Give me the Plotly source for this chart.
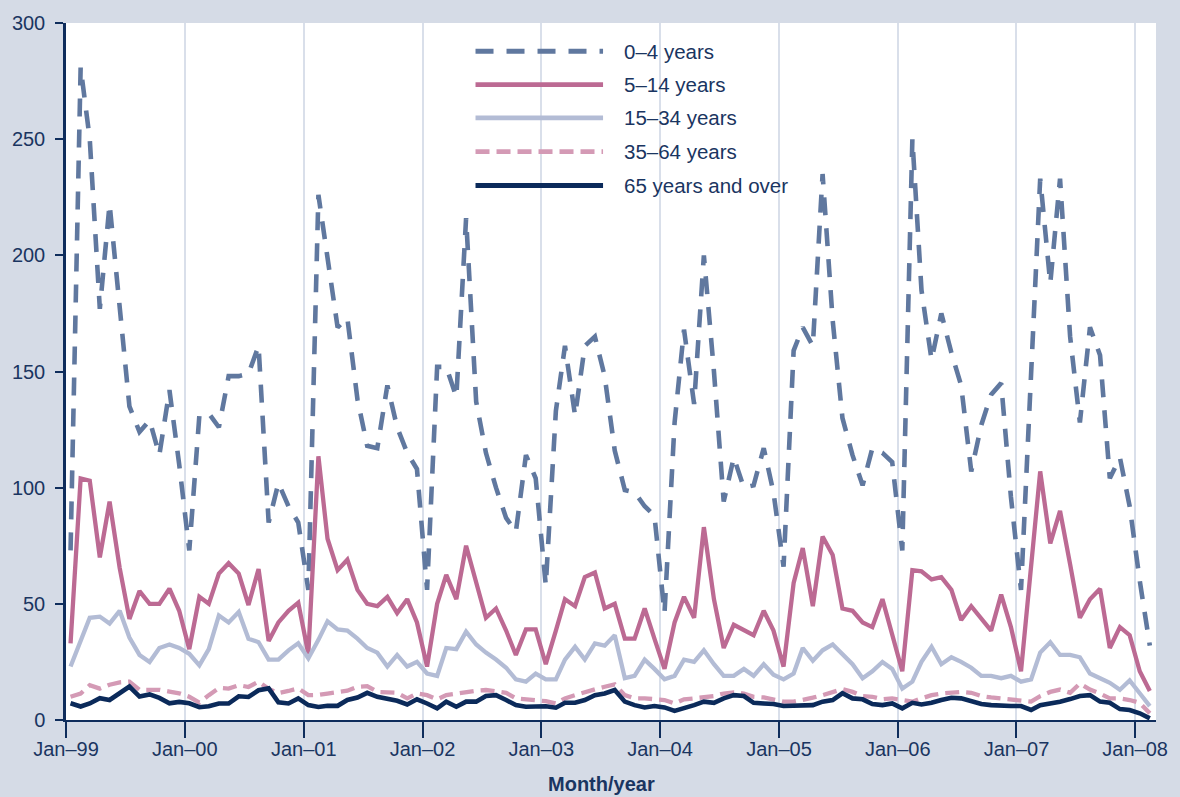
import plotly.graph_objects as go

# Monthly observations, January 1999 to February 2008 (one value per month)
month_dates = [f"{1999 + k // 12}-{k % 12 + 1:02d}-15" for k in range(110)]

age_0_4 = [
    73, 281, 250, 177, 222, 180, 135, 124, 129, 114, 142, 110,   # 1999
    73, 131, 132, 126, 148, 148, 149, 161, 85, 102, 92, 85,      # 2000
    56, 226, 198, 169, 173, 138, 118, 117, 144, 126, 115, 108,   # 2001
    56, 152, 152, 139, 216, 137, 115, 100, 87, 81, 114, 104,     # 2002
    58, 133, 161, 131, 161, 165, 148, 116, 99, 98, 92, 88,       # 2003
    46, 128, 168, 136, 200, 150, 94, 113, 100, 101, 117, 98,     # 2004
    66, 159, 169, 161, 235, 172, 130, 114, 101, 117, 115, 111,   # 2005
    73, 250, 185, 155, 175, 158, 144, 107, 127, 140, 145, 96,    # 2006
    56, 150, 233, 188, 233, 165, 128, 169, 157, 104, 113, 92,    # 2007
    60, 32,                                                      # 2008
]

age_5_14 = [
    33, 104, 103, 70, 94, 65.5, 43.5, 55.5, 50, 50, 56.5, 47,
    30.5, 53, 50, 63, 67.5, 63, 49.5, 65, 34, 42, 47, 50.5,
    28.5, 113.5, 78, 64.5, 69, 56, 50, 49, 53, 46, 52, 42,
    23, 50, 62.5, 52, 75, 60, 44, 48, 38.5, 28, 39, 39,
    24, 38.5, 52, 49, 61.5, 63.5, 48, 50, 35, 35, 48, 35,
    22, 42, 53, 44, 83, 52, 31, 41, 38.5, 36.5, 47, 38.5,
    23, 59, 74, 49, 79, 71, 48, 47, 42, 40, 52, 36.5,
    21, 64.5, 64, 60.5, 61.5, 56, 43, 49, 44, 38.5, 54, 40,
    21, 64, 107, 76, 90, 67, 44, 52, 56.5, 31, 40, 36.5,
    21, 12.5,
]

age_15_34 = [
    23, 33.5, 44, 44.5, 41.5, 47, 35.5, 28, 25, 31, 32.5, 31,
    28.5, 23.5, 30.5, 45, 42, 46.5, 35, 33.5, 26, 26, 30, 33,
    26.5, 34.5, 42.5, 39, 38.5, 35, 31, 29, 23, 28, 23, 25,
    20, 19, 31, 30.5, 38, 32.5, 29, 26, 22.5, 17.5, 16.5, 20,
    17.5, 17.5, 26, 31.5, 26, 33, 32, 36.5, 18, 19, 26, 22,
    17.5, 19, 26, 25, 30, 24, 19, 19, 22, 19, 24, 19.5,
    17.5, 20, 31, 25.5, 30, 32.5, 28, 24, 18, 21, 25, 22,
    13.5, 16.5, 25, 31.5, 24, 27, 25, 22.5, 19, 19, 18, 19,
    16.5, 17.5, 29, 33.5, 28, 28, 27, 20, 18, 16, 13, 17,
    11.5, 6,
]

age_35_64 = [
    10, 11.4, 15, 13.5, 15.2, 16.2, 16.5, 13, 13, 13, 12.2, 11.5,
    10, 7.5, 10.7, 13.8, 13.5, 15, 14.2, 16.5, 13.4, 11.6, 12.5, 13.6,
    10.7, 10.8, 11.4, 11.8, 12.6, 14.3, 14.6, 12.1, 12.1, 11.7, 9.3, 11.4,
    10.7, 8.9, 10.7, 11.4, 11.7, 12.6, 12.9, 12.1, 11.7, 9.3, 8.9, 8.6,
    8.1, 7.1, 9.3, 10.7, 12.1, 13.2, 14.3, 15.3, 10.7, 9.3, 9.3, 8.9,
    8.6, 7.1, 8.9, 9.3, 9.7, 10.3, 11.4, 11.9, 11.4, 10, 9.7, 8.9,
    7.9, 7.9, 8.6, 9.6, 10.7, 12.1, 13.3, 12.1, 10.3, 10, 8.9, 9.3,
    8.6, 7.9, 9.3, 10.7, 11.4, 11.7, 12.1, 11.7, 10.3, 9.7, 9.3, 8.9,
    8.3, 7.9, 10.3, 12.1, 13.1, 11.7, 15.7, 13.1, 11.4, 9.3, 9.3, 8.6,
    7.4, 2.9,
]

age_65_over = [
    7.2, 5.8, 7.1, 9.4, 8.6, 11.4, 14.4, 10.1, 11, 9.5, 7.2, 7.8,
    7.2, 5.5, 5.9, 7.1, 7.1, 10.2, 9.9, 12.8, 13.6, 7.6, 7.1, 9.3,
    6.4, 5.6, 6.1, 6.1, 8.6, 9.7, 11.7, 10, 9.3, 8.3, 6.7, 8.9,
    7.1, 5, 7.9, 5.7, 7.9, 7.9, 10.3, 10.7, 8.6, 6.4, 5.7, 5.9,
    5.9, 5.3, 7.4, 7.4, 8.6, 10.7, 11.4, 12.9, 7.9, 6.4, 5.4, 6,
    5.4, 3.9, 5, 6.4, 7.9, 7.4, 9.3, 10.7, 10.3, 7.4, 7.1, 6.9,
    6, 6, 6.3, 6.4, 7.9, 8.6, 11.5, 9.3, 8.9, 6.9, 6.4, 7.1,
    5, 7.4, 6.7, 7.4, 8.6, 9.6, 9.3, 7.9, 6.9, 6.4, 6, 6,
    6, 4.3, 6.4, 7.1, 7.9, 9, 10.3, 10.7, 7.9, 7.4, 4.7, 4.3,
    2.9, 0.7,
]

series_names = ["0–4 years", "5–14 years", "15–34 years", "35–64 years", "65 years and over"]
tick_dates = [f"{y}-01-01" for y in range(1999, 2009)]
tick_labels = ["Jan–99", "Jan–00", "Jan–01", "Jan–02", "Jan–03",
               "Jan–04", "Jan–05", "Jan–06", "Jan–07", "Jan–08"]
y_ticks = [0, 50, 100, 150, 200, 250, 300]

NAVY = "#0f2d5c"
TEXT = "#1a3561"
FONT = "Arial, Liberation Sans, sans-serif"

styles = [
    dict(color="#60789f", width=4.6, dash="18px,13px"),
    dict(color="#bc6a93", width=4.3, dash="solid"),
    dict(color="#b3bcd5", width=4.3, dash="solid"),
    dict(color="#d49ab5", width=4.3, dash="14px,7px"),
    dict(color="#0b2a5a", width=4.6, dash="solid"),
]
all_series = [age_0_4, age_5_14, age_15_34, age_35_64, age_65_over]

fig = go.Figure()
for name, vals, st in zip(series_names, all_series, styles):
    fig.add_trace(go.Scatter(
        x=month_dates, y=vals, name=name, mode="lines",
        line=dict(color=st["color"], width=st["width"], dash=st["dash"]),
        showlegend=False, hoverinfo="x+y+name",
    ))

# Hand-drawn key with long line samples
key_x0, key_x1, key_text_x = 0.3757, 0.4927, 0.5101
key_rows = [0.9595, 0.9115, 0.8640, 0.8155, 0.7670]
shapes = []
annotations = []
for name, st, ky in zip(series_names, styles, key_rows):
    shapes.append(dict(
        type="line", xref="paper", yref="paper",
        x0=key_x0, x1=key_x1, y0=ky, y1=ky,
        line=dict(color=st["color"], width=st["width"] + 0.4, dash=st["dash"]),
    ))
    annotations.append(dict(
        xref="paper", yref="paper", x=key_text_x, y=ky,
        xanchor="left", yanchor="middle", showarrow=False,
        text=name, font=dict(family=FONT, size=20.5, color=TEXT),
    ))

annotations.append(dict(
    xref="paper", yref="paper", x=0.4909, y=-0.0914,
    xanchor="center", yanchor="middle", showarrow=False,
    text="<b>Month/year</b>", font=dict(family=FONT, size=20, color=TEXT),
))

fig.update_layout(
    width=1180, height=797, autosize=False,
    margin=dict(l=64, r=22, t=20, b=77, pad=0),
    paper_bgcolor="#d5dbe6", plot_bgcolor="#ffffff",
    font=dict(family=FONT, size=20, color=TEXT),
    shapes=shapes, annotations=annotations,
    xaxis=dict(
        type="date", range=["1999-01-01", "2008-03-05"],
        tickvals=tick_dates, ticktext=tick_labels,
        ticks="outside", ticklen=16, tickwidth=1.5, tickcolor=NAVY,
        ticklabelstandoff=-6,
        showline=True, linecolor=NAVY, linewidth=2,
        showgrid=True, gridcolor="#d9dfea", gridwidth=1.5,
        zeroline=False, tickfont=dict(family=FONT, size=20, color=TEXT),
    ),
    yaxis=dict(
        range=[0, 300], tickvals=y_ticks,
        ticks="outside", ticklen=8, tickwidth=1.5, tickcolor=NAVY,
        ticklabelstandoff=6,
        showline=True, linecolor=NAVY, linewidth=2.5,
        showgrid=False, zeroline=False,
        tickfont=dict(family=FONT, size=20, color=TEXT),
    ),
)

fig.write_html("out.html")
